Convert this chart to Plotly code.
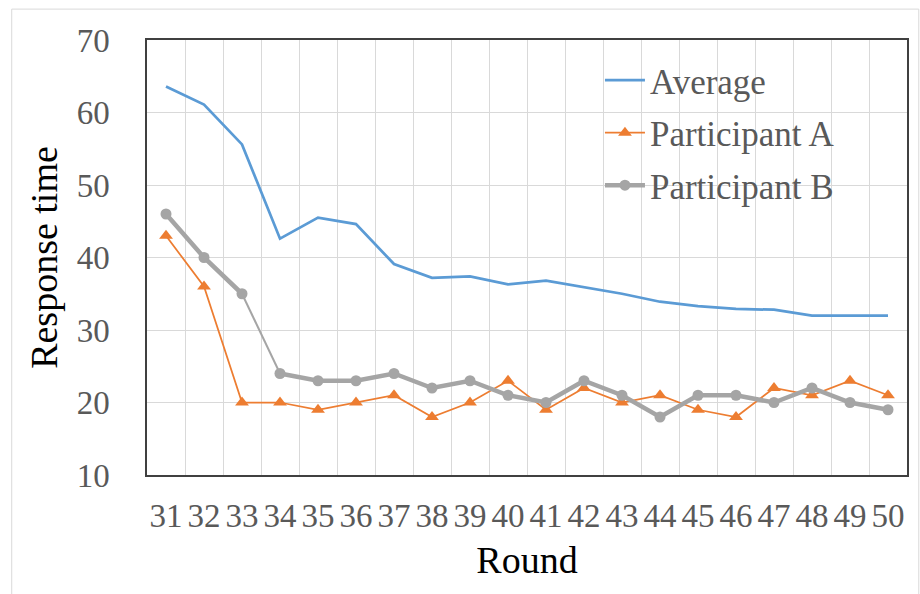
import plotly.graph_objects as go

rounds = [str(r) for r in range(31, 51)]
average = [63.6, 61.1, 55.6, 42.6, 45.5, 44.6, 39.1, 37.2, 37.4, 36.3,
           36.8, 35.9, 35.0, 33.9, 33.3, 32.9, 32.8, 32.0, 32.0, 32.0]
participant_a = [43, 36, 20, 20, 19, 20, 21, 18, 20, 23,
                 19, 22, 20, 21, 19, 18, 22, 21, 23, 21]
participant_b = [46, 40, 35, 24, 23, 23, 24, 22, 23, 21,
                 20, 23, 21, 18, 21, 21, 20, 22, 20, 19]
y_ticks = [10, 20, 30, 40, 50, 60, 70]

BLUE = "#5B9BD5"
ORANGE = "#ED7D31"
GRAY = "#A5A5A5"
FONT = "Liberation Serif"

fig = go.Figure()

fig.add_trace(go.Scatter(x=rounds, y=average, mode="lines", name="Average",
                         legendgroup="avg",
                         line=dict(color=BLUE, width=2.75)))
fig.add_trace(go.Scatter(x=rounds, y=participant_a, mode="lines+markers",
                         name="Participant A", legendgroup="A",
                         line=dict(color=ORANGE, width=1.75),
                         marker=dict(symbol="triangle-up", size=12, color=ORANGE)))
# Participant B: thin segment between rounds 33 and 34, thick elsewhere
fig.add_trace(go.Scatter(x=rounds[2:4], y=participant_b[2:4], mode="lines",
                         showlegend=False, hoverinfo="skip", legendgroup="B",
                         line=dict(color=GRAY, width=2)))
fig.add_trace(go.Scatter(x=rounds[:3], y=participant_b[:3], mode="lines+markers",
                         name="Participant B", legendgroup="B", showlegend=False,
                         line=dict(color=GRAY, width=4.5),
                         marker=dict(symbol="circle", size=11, color=GRAY)))
fig.add_trace(go.Scatter(x=rounds[3:], y=participant_b[3:], mode="lines+markers",
                         name="Participant B", legendgroup="B",
                         line=dict(color=GRAY, width=4.5),
                         marker=dict(symbol="circle", size=11, color=GRAY)))

fig.add_shape(type="rect", xref="paper", yref="paper",
              x0=-0.178, x1=1.0155, y0=-0.3, y1=1.071,
              line=dict(color="#D9D9D9", width=1), layer="below")

fig.update_layout(
    width=920, height=594,
    margin=dict(l=147, r=13, t=40, b=119, autoexpand=False),
    paper_bgcolor="white", plot_bgcolor="white",
    font=dict(family=FONT, size=33, color="#595959"),
    showlegend=True,
    legend=dict(x=0.596, y=0.975, xanchor="left", yanchor="top",
                bgcolor="rgba(0,0,0,0)", font=dict(family=FONT, size=35, color="#595959"),
                itemwidth=40, tracegroupgap=4, traceorder="grouped"),
    xaxis=dict(type="category", range=[-0.5, 19.5], tickmode="array",
               tickvals=rounds, ticktext=rounds, tickangle=0,
               tickson="boundaries", showgrid=True,
               gridcolor="#D9D9D9", gridwidth=1, ticks="", automargin=False,
               ticklabelstandoff=11,
               showline=True, linecolor="#404040", linewidth=1.5, mirror=True,
               title=dict(text="Round", font=dict(family=FONT, size=38, color="black"), standoff=13),
               tickfont=dict(family=FONT, size=33, color="#595959")),
    yaxis=dict(range=[10, 70], tickvals=y_ticks, showgrid=True,
               gridcolor="#D9D9D9", gridwidth=1, ticks="", zeroline=False,
               automargin=False, ticklabelstandoff=29,
               showline=True, linecolor="#404040", linewidth=1.5, mirror=True,
               title=dict(text="Response time", font=dict(family=FONT, size=38, color="black"), standoff=7),
               tickfont=dict(family=FONT, size=33, color="#595959")),
)

fig.write_html("out.html")
